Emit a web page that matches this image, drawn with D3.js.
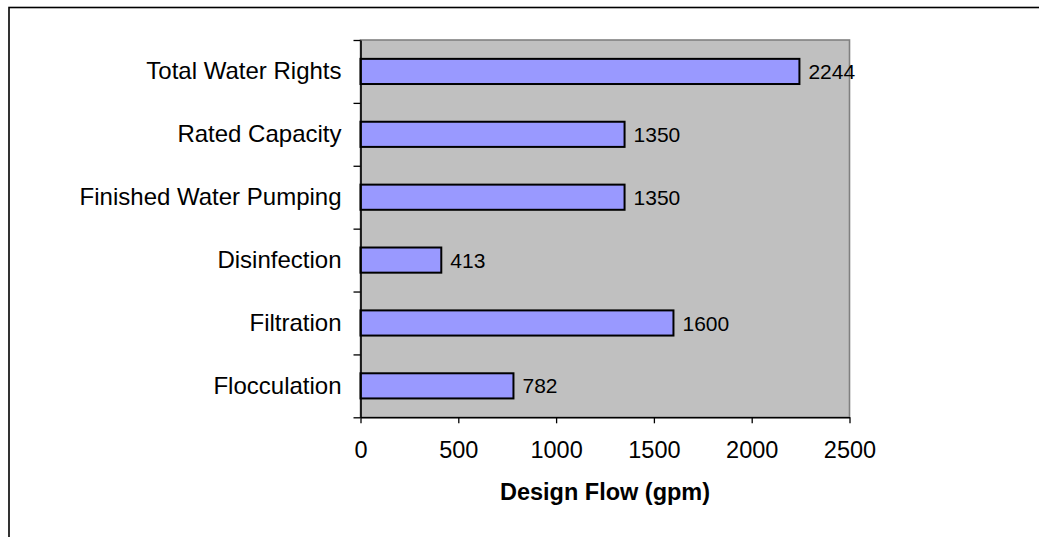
<!DOCTYPE html>
<html>
<head>
<meta charset="utf-8">
<script src="https://cdn.jsdelivr.net/npm/d3@7"></script>
<style>
  html, body { margin: 0; padding: 0; background: #ffffff; }
  svg { display: block; }
  text { font-family: "Liberation Sans", Arial, sans-serif; fill: #000; }
</style>
</head>
<body>
<svg id="chart" width="1039" height="537"></svg>
<script>
// Treatment stages, listed top to bottom as drawn
const categories = [
  "Total Water Rights",
  "Rated Capacity",
  "Finished Water Pumping",
  "Disinfection",
  "Filtration",
  "Flocculation"
];
// Design flow for each stage (gpm)
const designFlow = [2244, 1350, 1350, 413, 1600, 782];
const xTicks = [0, 500, 1000, 1500, 2000, 2500];
const xTitle = "Design Flow (gpm)";

const svg = d3.select("#chart");
const plot = { left: 360.5, right: 849.5, top: 40, bottom: 417.3 };
const fontStack = '"Liberation Sans", Arial, sans-serif';

// Chart area frame (extends past the right and bottom edges of the view)
svg.append("rect")
  .attr("x", 9).attr("y", 7.5)
  .attr("width", 1200).attr("height", 700)
  .attr("fill", "#ffffff")
  .attr("stroke", "#000").attr("stroke-width", 1.6);

const x = d3.scaleLinear().domain([0, 2500]).range([plot.left, plot.right]);
const y = d3.scaleBand().domain(categories)
  .range([plot.top, plot.bottom]).paddingInner(0.6).paddingOuter(0.3);
const yEdges = d3.scaleLinear().domain([0, categories.length])
  .range([plot.top, plot.bottom]);

// Plot area background with grey border
svg.append("rect")
  .attr("x", plot.left).attr("y", plot.top)
  .attr("width", plot.right - plot.left).attr("height", plot.bottom - plot.top)
  .attr("fill", "#c0c0c0")
  .attr("stroke", "#808080").attr("stroke-width", 1.6);

// Bars
svg.append("g").selectAll("rect")
  .data(categories)
  .join("rect")
  .attr("x", x(0))
  .attr("y", d => y(d))
  .attr("width", (d, i) => x(designFlow[i]) - x(0))
  .attr("height", y.bandwidth())
  .attr("fill", "#9999ff")
  .attr("stroke", "#000").attr("stroke-width", 2);

// Value labels
svg.append("g").selectAll("text")
  .data(categories)
  .join("text")
  .attr("x", (d, i) => x(designFlow[i]) + 9)
  .attr("y", d => y(d) + y.bandwidth() / 2)
  .attr("dy", "0.36em")
  .style("font-size", "21px")
  .text((d, i) => designFlow[i]);

// Bottom axis
const xAxis = svg.append("g")
  .attr("transform", `translate(0,${plot.bottom})`)
  .call(d3.axisBottom(x).tickValues(xTicks).tickFormat(d3.format("d"))
    .tickSize(6).tickSizeOuter(0).tickPadding(18));
xAxis.select(".domain").attr("stroke", "#000").attr("stroke-width", 1.6);
xAxis.selectAll(".tick line").attr("stroke", "#000").attr("stroke-width", 1.3);
xAxis.selectAll(".tick text")
  .style("font-size", "23.5px")
  .style("font-family", fontStack)
  .attr("fill", "#000");

// Left axis: tick marks at category boundaries
const yTickAxis = svg.append("g")
  .attr("transform", `translate(${plot.left},0)`)
  .call(d3.axisLeft(yEdges).tickValues(d3.range(categories.length + 1))
    .tickSize(7).tickSizeOuter(0).tickFormat(() => ""));
yTickAxis.select(".domain").attr("stroke", "#000").attr("stroke-width", 1.6);
yTickAxis.selectAll(".tick line").attr("stroke", "#000").attr("stroke-width", 1.3);

// Left axis: category names centred in each band
const yLabelAxis = svg.append("g")
  .attr("transform", `translate(${plot.left},0)`)
  .call(d3.axisLeft(y).tickSize(0).tickPadding(19));
yLabelAxis.select(".domain").remove();
yLabelAxis.selectAll(".tick text")
  .style("font-size", "24px")
  .style("font-family", fontStack)
  .attr("fill", "#000");

// Axis title
svg.append("text")
  .attr("x", (plot.left + plot.right) / 2)
  .attr("y", 500)
  .attr("text-anchor", "middle")
  .style("font-size", "23.5px")
  .style("font-weight", "bold")
  .text(xTitle);
</script>
</body>
</html>
